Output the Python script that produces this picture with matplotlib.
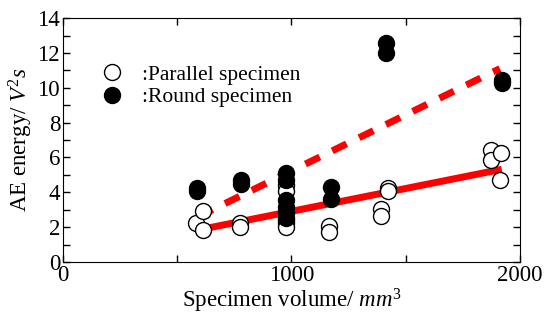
import matplotlib.pyplot as plt
from matplotlib.lines import Line2D
from matplotlib.ticker import MultipleLocator

plt.rcParams['font.family'] = ['Liberation Serif', 'DejaVu Serif']
plt.rcParams['mathtext.fontset'] = 'custom'
plt.rcParams['mathtext.rm'] = 'Liberation Serif'
plt.rcParams['mathtext.it'] = 'Liberation Serif:italic'

# parallel specimens (open circles)
par_x = [582, 614, 614, 775, 775, 976, 976, 976, 976, 976,
         1166, 1166, 1392, 1392, 1421, 1421, 1873, 1873, 1917, 1914]
par_y = [2.22, 2.95, 1.84, 2.26, 2.03, 4.4, 4.05, 2.4, 2.22, 2.03,
         2.08, 1.70, 3.04, 2.64, 4.26, 4.07, 6.43, 5.85, 6.27, 4.70]

# round specimens (filled circles)
rnd_x = [585, 585, 780, 780, 976, 976, 976, 976, 976, 976,
         1171, 1171, 1412, 1412, 1920, 1920]
rnd_y = [4.05, 4.25, 4.45, 4.7, 5.1, 4.7, 3.56, 3.17, 2.8, 2.52,
         4.32, 3.61, 12.55, 11.97, 10.3, 10.45]

# regression lines
fit_par_x = [643, 1920]
fit_par_y = [1.97, 5.32]
fit_rnd_x = [592, 1912]
fit_rnd_y = [2.6, 11.1]

fig = plt.figure(figsize=(5.52, 3.23), dpi=100)
ax = fig.add_axes([0.114, 0.189, 0.828, 0.755])

ax.plot(fit_par_x, fit_par_y, color='#ff0000', lw=5, solid_capstyle='butt', zorder=2)
ax.plot(fit_rnd_x, fit_rnd_y, color='#ff0000', lw=5, dashes=(2.3, 2.0), zorder=2)

ax.plot(par_x, par_y, 'o', ms=11.5, mfc='white', mec='black', mew=1.0, zorder=3)
ax.plot(rnd_x, rnd_y, 'o', ms=11.5, mfc='black', mec='black', mew=1.0, zorder=4)

ax.set_xlim(0, 2000)
ax.set_ylim(0, 14)
ax.xaxis.set_major_locator(MultipleLocator(1000))
ax.xaxis.set_minor_locator(MultipleLocator(500))
ax.yaxis.set_major_locator(MultipleLocator(2))
ax.yaxis.set_minor_locator(MultipleLocator(1))
ax.tick_params(which='both', direction='in', top=True, right=True, length=5,
               width=1, labelsize=16.5, pad=2)

ax.set_xlabel('Specimen volume/ $mm^3$', fontsize=16.5, labelpad=1)
ax.set_ylabel('AE energy/ $V^2s$', fontsize=16.5, labelpad=2)

handles = [
    Line2D([], [], ls='none', marker='o', ms=11.5, mfc='white', mec='black', mew=1.0),
    Line2D([], [], ls='none', marker='o', ms=11.5, mfc='black', mec='black', mew=1.0),
]
ax.legend(handles, [':Parallel specimen', ':Round specimen'], loc='upper left',
          bbox_to_anchor=(0.061, 0.844), frameon=False, fontsize=15.5,
          handletextpad=0.8, labelspacing=0.12, borderaxespad=0, handlelength=1.2)

fig.savefig('out.png', dpi=100)
